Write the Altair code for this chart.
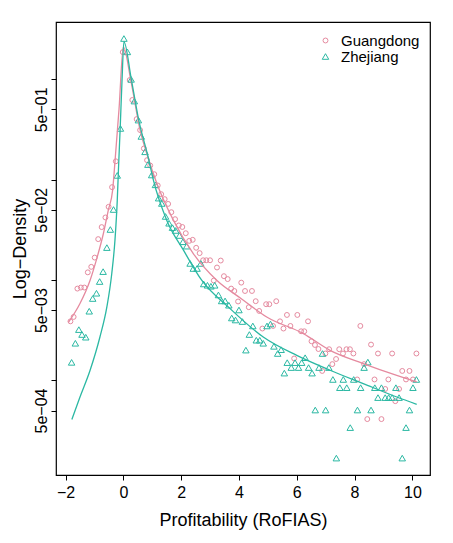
import altair as alt
import pandas as pd

series_names = ["Guangdong", "Zhejiang"]
series_colors = ["#E58A9F", "#2BB8A3"]
series_shapes = ["circle", "triangle-up"]
series_sizes = [24, 42]

gd_x = [-1.83, -1.72, -1.59, -1.47, -1.35, -1.23, -1.11, -0.99, -0.87, -0.75, -0.62, -0.51, -0.39, -0.26,
        -0.02, 0.22, 0.31, 0.46, 0.58, 0.71, 0.82, 0.93, 1.07, 1.19, 1.31, 1.43, 1.55, 1.66, 1.79,
        1.92, 2.04, 2.16, 2.28, 2.40, 2.52, 2.64, 2.76, 2.87, 3.00,
        3.13, 3.24, 3.37, 3.48, 3.61, 3.73, 3.84, 3.97, 4.08, 4.21, 4.34, 4.45, 4.58, 4.70, 4.81, 4.94,
        5.05, 5.18, 5.29, 5.42, 5.54, 5.66, 5.78, 5.91, 6.02, 6.15, 6.26, 6.39, 6.51, 6.63, 6.75, 6.88, 6.99,
        7.12, 7.23, 7.36, 7.47, 7.60, 7.72, 7.84, 7.96, 8.09, 8.20, 8.33, 8.44, 8.57, 8.69, 8.81, 8.93,
        9.06, 9.17, 9.30, 9.41, 9.54, 9.65, 9.78, 9.90, 10.02, 10.14]
gd_y = [0.00387, 0.00428, 0.0082, 0.0084, 0.0084, 0.0119, 0.0135, 0.0167, 0.0255, 0.0336, 0.0419, 0.0535, 0.084, 0.152,
        1.86, 0.98, 0.62, 0.40, 0.311, 0.204, 0.156, 0.138, 0.113, 0.0873, 0.0715, 0.0638, 0.0572, 0.0473, 0.0403,
        0.0349, 0.0337, 0.0292, 0.0245, 0.0251, 0.0209, 0.0185, 0.0157, 0.0157, 0.0157,
        0.00986, 0.0133, 0.0156, 0.0109, 0.0102, 0.0082, 0.00776, 0.0061, 0.0094, 0.00776, 0.00535, 0.00776, 0.00614, 0.00491, 0.00328, 0.00573,
        0.00573, 0.00348, 0.00614, 0.00387, 0.00328, 0.00448, 0.00348, 0.00165, 0.00448, 0.00308, 0.00308, 0.00387, 0.00245, 0.00225, 0.00205, 0.00124, 0.00185,
        0.00204, 0.00145, 0.00163, 0.00204, 0.00185, 0.00204, 0.00204, 0.00185, 0.00102, 0.00348, 0.00145, 0.000411, 0.00227, 0.00102, 0.00185, 0.000411,
        0.00082, 0.00102, 0.00185, 0.00062, 0.00082, 0.00124, 0.00102, 0.00124, 0.00102, 0.00185]

zj_x = [-1.79, -1.66, -1.54, -1.43, -1.30, -1.18, -1.06, -0.93, -0.82, -0.70,
        -0.57, -0.45, -0.34, -0.21, -0.10, 0.02, 0.14, 0.27, 0.38, 0.52,
        0.62, 0.75, 0.85, 0.98, 1.11, 1.22, 1.33, 1.46, 1.58, 1.70,
        1.81, 1.94, 2.06, 2.19, 2.31, 2.42, 2.55, 2.68, 2.78, 2.91,
        3.03, 3.16, 3.29, 3.40, 3.52, 3.65, 3.75, 3.88, 4.00, 4.12,
        4.24, 4.36, 4.48, 4.60, 4.72, 4.84, 4.97, 5.09, 5.21, 5.34,
        5.46, 5.57, 5.67, 5.81, 5.94, 6.06, 6.17, 6.29, 6.41, 6.53,
        6.64, 6.77, 6.89, 7.00, 7.11, 7.25, 7.37, 7.49, 7.61, 7.73,
        7.85, 7.97, 8.10, 8.21, 8.33, 8.46, 8.57, 8.70, 8.81, 8.93,
        9.06, 9.18, 9.30, 9.43, 9.54, 9.65, 9.78, 9.90, 10.02, 10.14]
zj_y = [0.00151, 0.00234, 0.0032, 0.00286, 0.00269, 0.00488, 0.00653, 0.00737, 0.00964, 0.0121,
        0.021, 0.0318, 0.0503, 0.11, 0.323, 2.54, 1.87, 0.995, 0.605, 0.391,
        0.269, 0.189, 0.141, 0.111, 0.0886, 0.0653, 0.0578, 0.0429, 0.0367, 0.0332,
        0.0311, 0.0277, 0.024, 0.0217, 0.0146, 0.013, 0.013, 0.0146, 0.00912, 0.00885,
        0.00865, 0.00885, 0.00709, 0.00618, 0.00618, 0.0056, 0.00418, 0.00399, 0.00502, 0.00385,
        0.002, 0.00286, 0.00348, 0.00251, 0.00251, 0.00234, 0.00348, 0.00364, 0.00218, 0.00185,
        0.00202, 0.00118, 0.0015, 0.00134, 0.0015, 0.00134, 0.0015, 0.00168, 0.00134, 0.00118,
        0.000506, 0.00134, 0.00185, 0.000506, 0.00134, 0.00102, 0.000168, 0.000845, 0.00102, 0.000845,
        0.000338, 0.00102, 0.000506, 0.000845, 0.00134, 0.00152, 0.000506, 0.000845, 0.000673, 0.000845,
        0.000673, 0.000673, 0.000673, 0.000845, 0.000673, 0.000168, 0.000338, 0.000506, 0.000845, 0.00102]

# Fitted density curves
gd_fit_x = [-1.90, -1.50, -1.15, -0.92, -0.69, -0.52, -0.37, -0.29, -0.15, 0.0, 0.27, 0.58, 0.85,
            1.16, 1.73, 2.42, 3.23, 4.07, 4.96, 6.23, 7.15, 8.30, 9.46, 10.15]
gd_fit_y = [0.00378, 0.00582, 0.00993, 0.0163, 0.029, 0.0495, 0.0784, 0.15, 0.5, 2.1, 0.935, 0.31, 0.167,
            0.0914, 0.0394, 0.0183, 0.00993, 0.00653, 0.00428, 0.00292, 0.00199, 0.00147, 0.00112, 0.000966]
zj_fit_x = [-1.78, -1.50, -1.15, -0.81, -0.57, -0.40, -0.29, -0.21, -0.17, -0.11, -0.045, 0.02,
            0.27, 0.52, 0.87, 1.04, 1.50, 2.08, 2.71, 3.69, 4.84, 6.00, 7.15, 8.30, 9.46, 10.15]
zj_fit_y = [0.000408, 0.000682, 0.00126, 0.0027, 0.00538, 0.0116, 0.0249, 0.0624, 0.124, 0.323, 0.98, 2.36,
            1.02, 0.407, 0.162, 0.0986, 0.0394, 0.0198, 0.00993, 0.00519, 0.0027, 0.00177, 0.00126, 0.000927,
            0.000682, 0.000577]

x_ticks = [-2, 0, 2, 4, 6, 8, 10]
y_ticks = [1, 0.5, 0.1, 0.05, 0.01, 0.005, 0.001, 0.0005]
y_tick_labels = ["", "5e\u221201", "", "5e\u221202", "", "5e\u221203", "", "5e\u221204"]
x_domain = [-2.33, 10.61]
y_domain = [1.14e-4, 3.71]

FONT = "Liberation Sans"

pts = pd.concat([
    pd.DataFrame({"x": gd_x, "y": gd_y, "series": series_names[0]}),
    pd.DataFrame({"x": zj_x, "y": zj_y, "series": series_names[1]}),
])
fit_gd = pd.DataFrame({"x": gd_fit_x, "y": gd_fit_y})
fit_zj = pd.DataFrame({"x": zj_fit_x, "y": zj_fit_y})

label_expr = ""
for v, lab in zip(y_ticks, y_tick_labels):
    label_expr += f"abs(log(datum.value) - log({v})) < 0.01 ? '{lab}' : "
label_expr += "''"

x_enc = alt.X("x:Q", scale=alt.Scale(domain=x_domain, nice=False, zero=False),
              axis=alt.Axis(values=x_ticks, title="Profitability (RoFIAS)", format="d",
                            labelPadding=4, titlePadding=11))
y_enc = alt.Y("y:Q", scale=alt.Scale(type="log", domain=y_domain, nice=False),
              axis=alt.Axis(values=y_ticks, labelExpr=label_expr, title="Log\u2212Density",
                            labelAngle=270, labelAlign="center", labelBaseline="bottom",
                            labelPadding=2, titlePadding=4))

points = alt.Chart(pts).mark_point(filled=False, strokeWidth=1, opacity=1).encode(
    x=x_enc,
    y=y_enc,
    color=alt.Color("series:N", scale=alt.Scale(domain=series_names, range=series_colors),
                    legend=alt.Legend(title=None, orient="none", legendX=262, legendY=11,
                                      labelFontSize=15, labelFont=FONT, labelColor="black",
                                      symbolSize=30, symbolStrokeWidth=1, labelOffset=8,
                                      rowPadding=0, padding=0)),
    shape=alt.Shape("series:N", scale=alt.Scale(domain=series_names, range=series_shapes)),
    size=alt.Size("series:N", scale=alt.Scale(domain=series_names, range=series_sizes), legend=None),
)

line_gd = alt.Chart(fit_gd).mark_line(color=series_colors[0], strokeWidth=1.3, interpolate="monotone").encode(
    x=alt.X("x:Q"), y=alt.Y("y:Q"))
line_zj = alt.Chart(fit_zj).mark_line(color=series_colors[1], strokeWidth=1.3, interpolate="monotone").encode(
    x=alt.X("x:Q"), y=alt.Y("y:Q"))

chart = alt.layer(points, line_gd, line_zj).properties(
    width=374, height=453,
    autosize=alt.AutoSizeParams(type="none"),
    padding={"left": 48, "top": 14, "right": 15, "bottom": 60},
    background="white",
).configure_view(
    stroke="black", strokeWidth=1.2
).configure_axis(
    grid=False, domain=False, tickColor="black", tickSize=5, tickWidth=1,
    labelFont=FONT, labelFontSize=16, labelColor="black",
    titleFont=FONT, titleFontSize=18, titleFontWeight="normal", titleColor="black",
)

chart.save("out.html", embed_options={"renderer": "svg", "actions": False})
